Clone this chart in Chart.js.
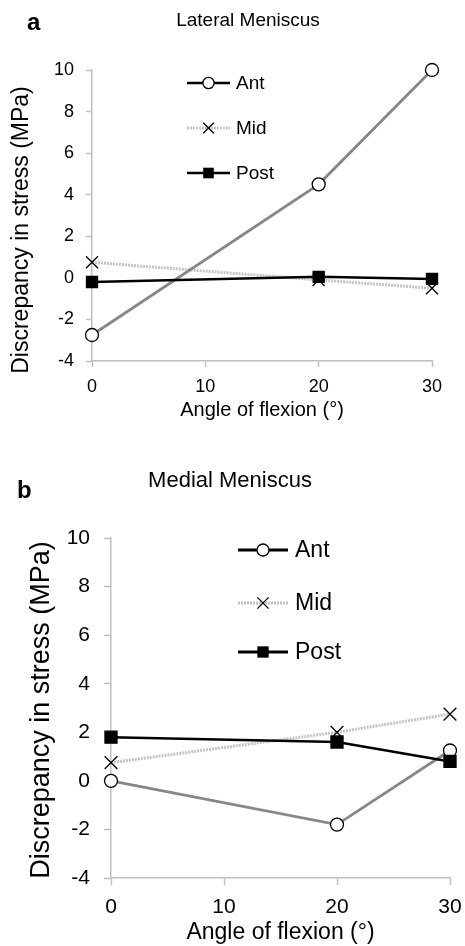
<!DOCTYPE html>
<html>
<head>
<meta charset="utf-8">
<script src="https://cdn.jsdelivr.net/npm/chart.js@4.4.1/dist/chart.umd.min.js"></script>
<style>
  html, body { margin: 0; padding: 0; background: #fff; }
  body { width: 465px; height: 946px; position: relative; overflow: hidden; }
  .panel { position: absolute; left: 0; width: 465px; }
  #panelA { top: 0; height: 430px; }
  #panelB { top: 450px; height: 496px; }
</style>
</head>
<body>
<div class="panel" id="panelA"><canvas id="chartA"></canvas></div>
<div class="panel" id="panelB"><canvas id="chartB"></canvas></div>
<script>
/* ---------------- data ---------------- */
const angles      = [0, 20, 30];
const seriesNames = ['Ant', 'Mid', 'Post'];
const xTicks      = [0, 10, 20, 30];
const yTicks      = [-4, -2, 0, 2, 4, 6, 8, 10];

// lateral meniscus (panel a)
const lateralAnt  = [-2.75, 4.5, 10];
const lateralMid  = [0.75, -0.1, -0.5];
const lateralPost = [-0.2, 0.05, -0.05];

// medial meniscus (panel b)
const medialAnt   = [0, -1.8, 1.25];
const medialMid   = [0.75, 2.0, 2.75];
const medialPost  = [1.8, 1.6, 0.8];

/* ---------------- styles ---------------- */
const FONT = "Arial, 'Liberation Sans', sans-serif";
Chart.defaults.font.family = FONT;
Chart.defaults.color = '#000';

const styles = {
  Ant:  { line: '#878787', dash: [],     width: 2.8, point: 'circle',   fill: '#fff', legendLine: '#000', order: 2 },
  Mid:  { line: '#c4c4c4', dash: [2, 1], width: 3,   point: 'crossRot', fill: '#000', legendLine: '#c4c4c4', order: 3 },
  Post: { line: '#000',    dash: [],     width: 2.5, point: 'rect',     fill: '#000', legendLine: '#000', order: 1 }
};
const AXIS_GREY = '#bfbfbf';

/* small marker routine for the hand-placed legend */
function drawMarker(ctx, style, x, y, r) {
  ctx.save();
  ctx.lineWidth = 1.3;
  ctx.strokeStyle = '#000';
  ctx.setLineDash([]);
  ctx.beginPath();
  if (style === 'circle') {
    ctx.fillStyle = '#fff';
    ctx.arc(x, y, r, 0, Math.PI * 2);
    ctx.fill(); ctx.stroke();
  } else if (style === 'crossRot') {
    const d = r * Math.SQRT1_2;
    ctx.moveTo(x - d, y - d); ctx.lineTo(x + d, y + d);
    ctx.moveTo(x + d, y - d); ctx.lineTo(x - d, y + d);
    ctx.stroke();
  } else {
    const d = r * Math.SQRT1_2;
    ctx.fillStyle = '#000';
    ctx.fillRect(x - d, y - d, 2 * d, 2 * d);
  }
  ctx.restore();
}

/* plugin: panel letter, titles, y-axis title, legend */
const decor = {
  id: 'decor',
  afterDraw(chart, args, opts) {
    const ctx = chart.ctx;
    (opts.texts || []).forEach(t => {
      ctx.save();
      ctx.fillStyle = '#000';
      ctx.font = t.font;
      ctx.textAlign = t.align || 'left';
      ctx.textBaseline = t.baseline || 'alphabetic';
      ctx.translate(t.x, t.y);
      if (t.rotate) ctx.rotate(t.rotate);
      ctx.fillText(t.text, 0, 0);
      ctx.restore();
    });
    const lg = opts.legend;
    if (!lg) return;
    seriesNames.forEach((name, i) => {
      const st = styles[name];
      const y = lg.ys[i];
      ctx.save();
      ctx.strokeStyle = st.legendLine;
      ctx.lineWidth = lg.lineWidth;
      ctx.setLineDash(st.dash);
      ctx.beginPath();
      ctx.moveTo(lg.x0, y); ctx.lineTo(lg.x1, y);
      ctx.stroke();
      ctx.restore();
      drawMarker(ctx, st.point, (lg.x0 + lg.x1) / 2, y, st.point === 'circle' ? lg.r * 0.75 : lg.r);
      ctx.save();
      ctx.fillStyle = '#000';
      ctx.font = lg.font;
      ctx.textBaseline = 'middle';
      ctx.fillText(name, lg.textX, y + 1);
      ctx.restore();
    });
  }
};

function makeDatasets(values, sz) {
  return seriesNames.map((name, i) => {
    const st = styles[name];
    let r = sz.circle;
    if (st.point === 'crossRot') r = sz.cross;
    if (st.point === 'rect') r = sz.rect;
    return {
      label: name,
      data: angles.map((a, k) => ({ x: a, y: values[i][k] })),
      showLine: true,
      borderColor: st.line,
      borderWidth: st.width,
      borderDash: st.dash,
      pointStyle: st.point,
      pointRadius: r,
      pointHoverRadius: r,
      pointBackgroundColor: st.fill,
      pointBorderColor: '#000',
      pointBorderWidth: 1.3,
      order: st.order,
      clip: false
    };
  });
}

function makeChart(id, values, cfg) {
  return new Chart(document.getElementById(id), {
    type: 'scatter',
    data: { datasets: makeDatasets(values, cfg.marker) },
    options: {
      responsive: true,
      maintainAspectRatio: false,
      animation: false,
      layout: { padding: cfg.padding },
      plugins: {
        legend: { display: false },
        tooltip: { enabled: false },
        decor: { texts: cfg.texts, legend: cfg.legend }
      },
      scales: {
        x: {
          type: 'linear',
          position: 'bottom',
          min: xTicks[0],
          max: xTicks[xTicks.length - 1],
          afterBuildTicks: s => { s.ticks = xTicks.map(v => ({ value: v })); },
          afterFit: s => { s.height = cfg.xHeight; s.paddingLeft = 0; s.paddingRight = 0; },
          ticks: { color: '#000', font: { size: cfg.tickSize }, padding: cfg.xTickPad, maxRotation: 0 },
          grid: { drawOnChartArea: false, drawTicks: true, tickLength: cfg.tickLen, tickColor: AXIS_GREY, tickWidth: 1.5 },
          border: { color: AXIS_GREY, width: 1.5 },
          title: { display: true, text: 'Angle of flexion (°)', color: '#000',
                   font: { size: cfg.xTitleSize }, padding: { top: 0, bottom: cfg.xTitlePad } }
        },
        y: {
          min: yTicks[0],
          max: yTicks[yTicks.length - 1],
          afterBuildTicks: s => { s.ticks = yTicks.map(v => ({ value: v })); },
          afterFit: s => { s.width = cfg.yWidth; },
          ticks: { color: '#000', font: { size: cfg.tickSize }, padding: cfg.yTickPad },
          grid: { drawOnChartArea: false, drawTicks: true, tickLength: cfg.tickLen, tickColor: AXIS_GREY, tickWidth: 1.5 },
          border: { color: AXIS_GREY, width: 1.5 }
        }
      }
    },
    plugins: [decor]
  });
}

/* ---------------- panel a ---------------- */
makeChart('chartA', [lateralAnt, lateralMid, lateralPost], {
  padding: { top: 70, right: 33, bottom: 0, left: 0 },
  yWidth: 92, xHeight: 69,
  tickSize: 18, tickLen: 6, xTickPad: 9, yTickPad: 12,
  xTitleSize: 20, xTitlePad: 8,
  marker: { circle: 6.5, cross: 8.5, rect: 7.8 },
  texts: [
    { text: 'a', x: 27, y: 30, font: 'bold 24px ' + FONT },
    { text: 'Lateral Meniscus', x: 248, y: 26, font: '19px ' + FONT, align: 'center' },
    { text: 'Discrepancy in stress (MPa)', x: 22, y: 230, font: '23px ' + FONT,
      align: 'center', baseline: 'middle', rotate: -Math.PI / 2 }
  ],
  legend: { x0: 187, x1: 230, textX: 236, ys: [83, 128, 173], font: '19px ' + FONT, lineWidth: 2.5, r: 7.5 }
});

/* ---------------- panel b ---------------- */
makeChart('chartB', [medialAnt, medialMid, medialPost], {
  padding: { top: 88, right: 15, bottom: 0, left: 0 },
  yWidth: 111, xHeight: 68,
  tickSize: 21, tickLen: 7, xTickPad: 10, yTickPad: 14,
  xTitleSize: 23, xTitlePad: 0,
  marker: { circle: 6.5, cross: 9, rect: 8.5 },
  texts: [
    { text: 'b', x: 17, y: 48, font: 'bold 24px ' + FONT },
    { text: 'Medial Meniscus', x: 230, y: 37, font: '22px ' + FONT, align: 'center' },
    { text: 'Discrepancy in stress (MPa)', x: 42, y: 260, font: '27px ' + FONT,
      align: 'center', baseline: 'middle', rotate: -Math.PI / 2 }
  ],
  legend: { x0: 238, x1: 288, textX: 295, ys: [100, 153, 202], font: '23px ' + FONT, lineWidth: 3, r: 8 }
});
</script>
</body>
</html>
